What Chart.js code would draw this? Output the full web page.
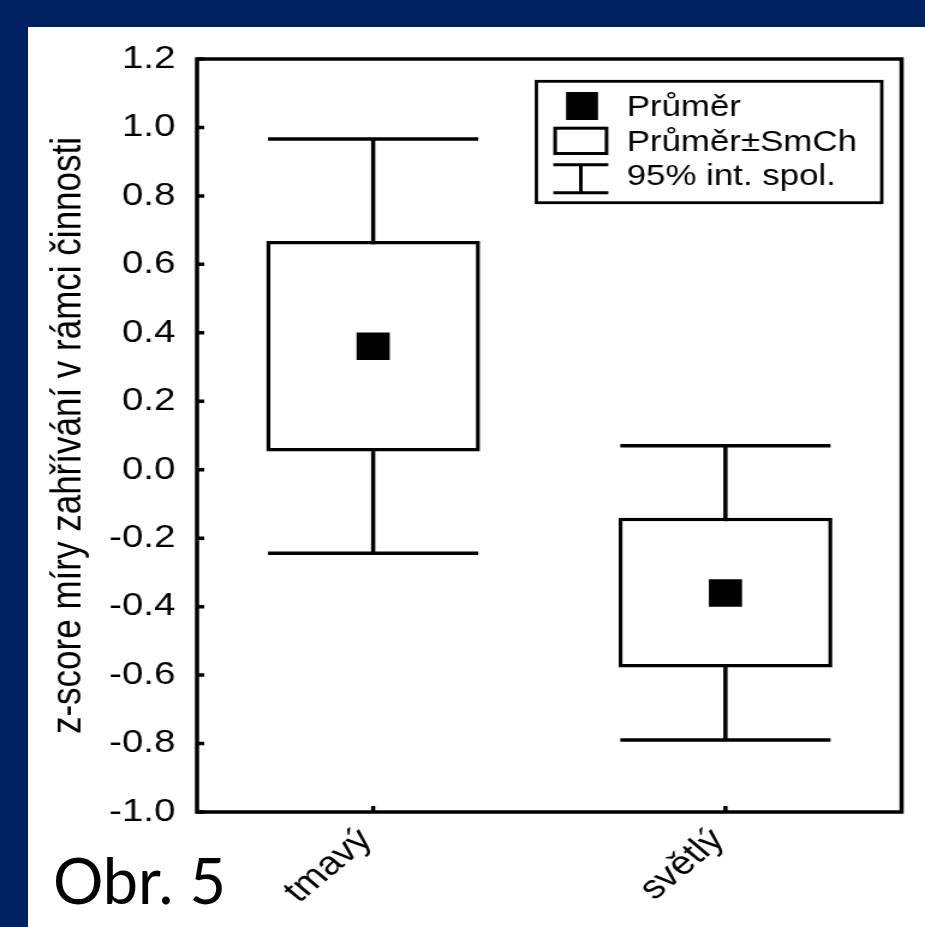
<!DOCTYPE html>
<html>
<head>
<meta charset="utf-8">
<script src="https://cdn.jsdelivr.net/npm/chart.js@4.4.1/dist/chart.umd.min.js"></script>
<style>
  html, body { margin: 0; padding: 0; }
  body { width: 925px; height: 927px; background: #002060; position: relative; overflow: hidden; }
  #panel { position: absolute; left: 28px; top: 27px; right: 0; bottom: 0; background: #fff; }
  #c { position: absolute; left: 0; top: 0; }
  #fig { position: absolute; left: 53px; top: 848px; font: 63px Lato, sans-serif; line-height: 1; color: #000; }
</style>
</head>
<body>
<div id="panel"></div>
<!-- the figure is drawn at 770px and shown stretched to 925px, like the scanned original -->
<canvas id="c" width="770" height="927" style="width:925px;height:927px"></canvas>
<div id="fig">Obr. 5</div>
<script>
// ── DATA ──────────────────────────────────
const categories   = ['tmavý', 'světlý'];
const means        = [0.361, -0.360];
const seLow        = [0.053, -0.578];
const seHigh       = [0.668, -0.140];
const ciLow        = [-0.244, -0.790];
const ciHigh       = [0.966, 0.070];
const yMin = -1.0, yMax = 1.2, yStep = 0.2;
const yTitle       = 'z-score míry zahřívání v rámci činnosti';
const legendLabels = ['Průměr', 'Průměr±SmCh', '95% int. spol.'];

const FONT = "'Liberation Sans', Arial, sans-serif";
const LW = 3.5;

// ── PLUGIN: whiskers, frame, inward ticks, legend ──
const boxPlot = {
  id: 'boxPlot',
  beforeDatasetsDraw(chart) {
    const { ctx, scales: { y } } = chart;
    const bars = chart.getDatasetMeta(1).data;
    ctx.save();
    ctx.strokeStyle = '#000';
    ctx.lineWidth = LW;
    bars.forEach((bar, i) => {
      const cx = bar.x, hw = bar.width / 2 - 1.5;
      const top = y.getPixelForValue(ciHigh[i]);
      const bot = y.getPixelForValue(ciLow[i]);
      ctx.beginPath();
      ctx.moveTo(cx, top);      ctx.lineTo(cx, bot);
      ctx.moveTo(cx - hw, top); ctx.lineTo(cx + hw, top);
      ctx.moveTo(cx - hw, bot); ctx.lineTo(cx + hw, bot);
      ctx.stroke();
    });
    ctx.restore();
  },
  afterDraw(chart) {
    const { ctx, chartArea: a, scales: { x, y } } = chart;
    ctx.save();
    ctx.strokeStyle = '#000';
    ctx.fillStyle = '#000';
    ctx.lineWidth = LW;
    ctx.strokeRect(a.left, a.top, a.right - a.left, a.bottom - a.top);

    // ticks pointing into the plot
    ctx.beginPath();
    y.ticks.forEach((t, i) => {
      const py = y.getPixelForTick(i);
      ctx.moveTo(a.left, py); ctx.lineTo(a.left + 6, py);
    });
    x.ticks.forEach((t, i) => {
      const px = x.getPixelForTick(i);
      ctx.moveTo(px, a.bottom); ctx.lineTo(px, a.bottom - 6);
    });
    ctx.stroke();

    // legend
    ctx.lineWidth = 2.8;
    ctx.strokeRect(446.5, 81.3, 287.5, 121.4);
    ctx.fillRect(471.2, 92, 26.6, 28);
    ctx.lineWidth = 3;
    ctx.strokeRect(462.1, 128.2, 42.8, 25.3);
    ctx.beginPath();
    ctx.moveTo(460.6, 164.7); ctx.lineTo(506.4, 164.7);
    ctx.moveTo(483.5, 164.7); ctx.lineTo(483.5, 192.7);
    ctx.moveTo(460.6, 192.7); ctx.lineTo(506.4, 192.7);
    ctx.stroke();
    ctx.font = '29px ' + FONT;
    ctx.textBaseline = 'alphabetic';
    ctx.textAlign = 'left';
    [116, 150.7, 185].forEach((by, i) => ctx.fillText(legendLabels[i], 521.7, by));
    ctx.restore();
  }
};

// ── CHART ─────────────────────────────────
Chart.defaults.font.family = FONT;
Chart.defaults.color = '#000';

new Chart(document.getElementById('c'), {
  type: 'bar',
  data: {
    labels: categories,
    datasets: [
      {
        type: 'line',
        label: legendLabels[0],
        data: means,
        showLine: false,
        pointStyle: 'rect',
        pointRadius: 19.5,
        pointBackgroundColor: '#000',
        pointBorderWidth: 0,
        order: 0
      },
      {
        label: legendLabels[1],
        data: seLow.map((v, i) => [v, seHigh[i]]),
        backgroundColor: '#fff',
        borderColor: '#000',
        borderWidth: LW,
        borderSkipped: false,
        categoryPercentage: 1,
        barPercentage: 0.607,
        order: 1
      }
    ]
  },
  options: {
    responsive: false,
    devicePixelRatio: 1,
    animation: false,
    layout: { padding: { top: 59, right: 17, bottom: 0, left: 0 } },
    plugins: { legend: { display: false }, tooltip: { enabled: false } },
    scales: {
      x: {
        offset: true,
        grid: { display: false, drawTicks: false },
        border: { display: false },
        ticks: { font: { size: 33 }, minRotation: 45, maxRotation: 45, padding: 9, labelOffset: -6 },
        afterFit: s => { s.height = 115; }
      },
      y: {
        min: yMin, max: yMax,
        grid: { display: false, drawTicks: false },
        border: { display: false },
        ticks: {
          stepSize: yStep,
          padding: 18,
          font: { size: 32 },
          callback: v => Math.abs(v) < 1e-9 ? '0.0' : v.toFixed(1)
        },
        title: { display: true, text: yTitle, font: { size: 35 }, padding: { top: 36.5, bottom: 0 } },
        afterFit: s => { s.width = 164; }
      }
    }
  },
  plugins: [boxPlot]
});
</script>
</body>
</html>
